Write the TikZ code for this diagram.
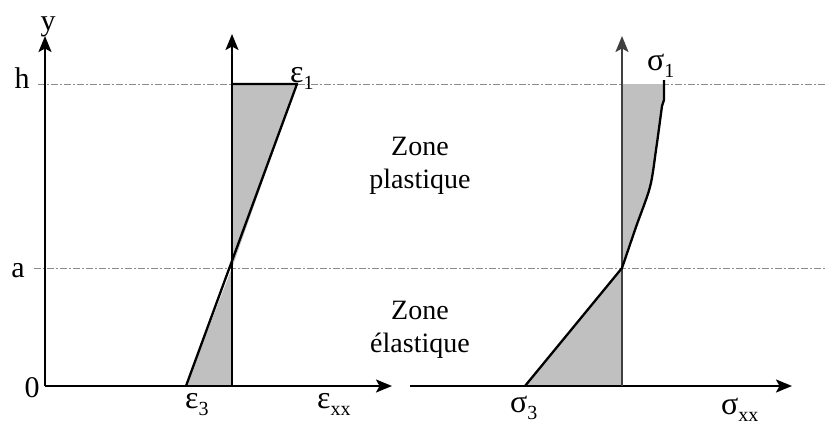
\documentclass[tikz,border=0pt]{standalone}
\usepackage{fontspec}
\setmainfont{Liberation Serif}
\usetikzlibrary{positioning,arrows.meta}
\definecolor{areagray}{HTML}{C0C0C0}
\definecolor{guidegray}{HTML}{8C8C8C}
\newcommand{\idx}[1]{\raisebox{-0.22em}{\fontsize{20}{20}\selectfont #1}}
\tikzset{
  axis/.style={line width=2.1pt,-{Stealth[length=16pt,width=13pt,inset=3.5pt]}},
  guide/.style={guidegray,line width=0.9pt,dash pattern=on 7pt off 2pt on 2pt off 2pt},
  lbl/.style={font=\fontsize{30}{30}\selectfont,inner sep=0pt,anchor=base},
  greek/.style={font=\fontsize{32}{32}\selectfont,inner sep=0pt,anchor=base west},
  zone/.style={font=\fontsize{28}{33}\selectfont,align=center,inner sep=0pt},
  prof/.style={line width=2.3pt,line join=round},
  area/.style={fill=areagray},
}

\begin{document}
\begin{tikzpicture}[x=1pt,y=-1pt]
\useasboundingbox (0,0) rectangle (825,426);
\coordinate (o1) at (45,386); \coordinate (y1) at (45,36); \coordinate (x1) at (392,386);
\coordinate (e0) at (232,386); \coordinate (et) at (232,34);
\coordinate (eh) at (232,84); \coordinate (e1) at (297,84);
\coordinate (ea) at (232,268); \coordinate (e3) at (186,386);
\coordinate (o2) at (410,386); \coordinate (x2) at (792,386);
\coordinate (s0) at (622,386); \coordinate (st) at (622,36);
\coordinate (sh) at (622,84); \coordinate (sa) at (622,268);
\coordinate (s1) at (664,84); \coordinate (sk) at (664,100); \coordinate (s3) at (525,386);
\draw[guide] (38,84) -- (825,84);
\draw[guide] (34,268) -- (825,268);
\path[area] (eh) -- (e1) -- (ea) -- cycle;
\path[area] (ea) -- (e3) -- (e0) -- cycle;
\path[area] (sh) -- (s1) -- (sk) -- plot[smooth] coordinates {(662,106) (656,150) (650,187) (636,227) (622,268)} -- cycle;
\path[area] (sa) -- (s3) -- (s0) -- cycle;
\draw[axis] (o1) -- (y1);
\draw[axis] (o1) -- (x1);
\draw[axis] (o2) -- (x2);
\draw[axis] (e0) -- (et);
\draw[axis,black!75] (s0) -- (st);
\draw[prof] (eh) -- (e1) -- (e3);
\draw[prof] (664,80) -- (sk) -- plot[smooth] coordinates {(662,106) (656,150) (650,187) (636,227) (622,268)} -- (s3);
\node[lbl] (ly) at (48,30) {y};
\node[lbl] (lh) at (22,88) {h};
\node[lbl] (la) at (18,277) {a};
\node[lbl] (l0) at (32,397) {0};
\node[greek] (le1) at (290,82) {ε\idx{1}};
\node[greek] (le3) at (185,408) {ε\idx{3}};
\node[greek] (lexx) at (317,408) {ε\idx{xx}};
\node[greek] (ls1) at (647,70) {σ\idx{1}};
\node[greek] (ls3) at (510,412) {σ\idx{3}};
\node[greek] (lsxx) at (721,414) {σ\idx{xx}};
\node[zone] (zp) at (420,166) {Zone\\plastique};
\node[zone] (ze) at (420,330) {Zone\\élastique};
\end{tikzpicture}
\end{document}
